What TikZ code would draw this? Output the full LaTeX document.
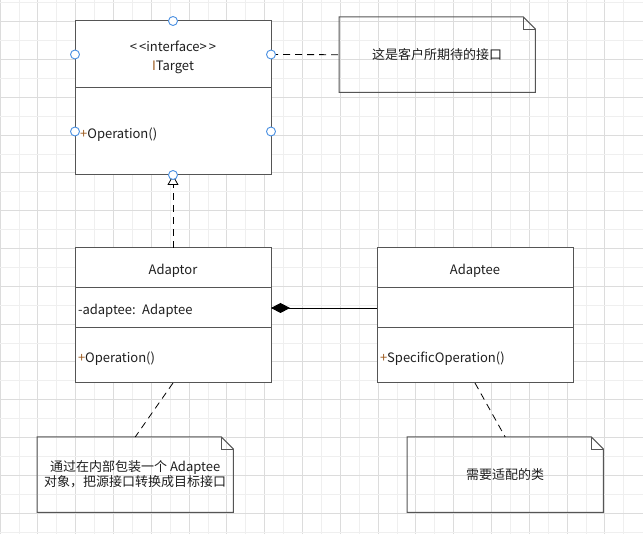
\documentclass[tikz,border=0pt]{standalone}
\usepackage{fontspec}
\setmainfont{Noto Sans CJK SC}
\usetikzlibrary{arrows.meta}
\usetikzlibrary{positioning}
\definecolor{gridmajor}{HTML}{DCDCDC}
\definecolor{gridminor}{HTML}{EFEFEF}
\definecolor{boxline}{HTML}{555555}
\definecolor{portblue}{HTML}{4A90E2}
\definecolor{plusbrown}{HTML}{9C5A1E}
\newcommand{\pl}{\textcolor{plusbrown}{+}}
\tikzset{
    classpart/.style={draw=boxline, line width=1pt, fill=white, rectangle, minimum width=196pt,
        text width=190pt, inner sep=0pt, outer sep=0pt, font=\fontsize{13}{19}\selectfont,
        execute at begin node={\rule{0pt}{16pt}}},
    notebox/.style={minimum width=196pt, minimum height=75pt, anchor=north west, align=center,
        inner sep=0pt, font=\fontsize{13}{15}\selectfont},
    port/.style={circle, draw=portblue, fill=white, line width=0.9pt, minimum size=9pt, inner sep=0pt},
    dashline/.style={dash pattern=on 7pt off 5pt, line width=0.8pt},
}

\begin{document}
\begin{tikzpicture}[x=1pt, y=-1pt, text=black!88]
    \useasboundingbox[fill=white] (0,0) rectangle (643,534);
    \foreach \i in {0,...,16} {
        \draw[gridminor, line width=0.8pt] (18.9+\i*37.8,0) -- (18.9+\i*37.8,534);
        \draw[gridmajor, line width=0.8pt] (\i*37.8,0) -- (\i*37.8,534);
    }
    \foreach \i in {0,...,14} {
        \draw[gridminor, line width=0.8pt] (0,2.8+\i*37.8) -- (643,2.8+\i*37.8);
        \draw[gridmajor, line width=0.8pt] (0,21.7+\i*37.8) -- (643,21.7+\i*37.8);
    }

    \node[classpart, minimum height=67pt, align=center, anchor=north west] (itarget-name) at (75,21)
        {{<}\,{<}interface{>}\,{>}\\\textcolor{plusbrown}{I}Target};
    \node[classpart, minimum height=87pt, align=left, below=0pt of itarget-name] (itarget-ops) {\,\pl Operation()};

    \node[classpart, minimum height=40pt, align=center, anchor=north west] (adaptor-name) at (75,248) {Adaptor};
    \node[classpart, minimum height=40pt, align=left, below=0pt of adaptor-name] (adaptor-attr) {-adaptee: Adaptee};
    \node[classpart, minimum height=55pt, align=left, below=0pt of adaptor-attr] (adaptor-ops) {\pl Operation()};

    \node[classpart, minimum height=40pt, align=center, anchor=north west] (adaptee-name) at (377,248) {Adaptee};
    \node[classpart, minimum height=40pt, align=left, below=0pt of adaptee-name] (adaptee-attr) {};
    \node[classpart, minimum height=55pt, align=left, below=0pt of adaptee-attr] (adaptee-ops) {\pl SpecificOperation()};

    \node[notebox] (note0) at (339,17) {这是客户所期待的接口};
    \node[notebox] (note1) at (37,437) {通过在内部包装一个 Adaptee\\对象，把源接口转换成目标接口};
    \node[notebox] (note2) at (407,437) {需要适配的类};
    \foreach \n in {note0,note1,note2} {
        \draw[boxline, line width=1pt] (\n.north west) -- ([xshift=-12pt]\n.north east)
            -- ([yshift=-12pt]\n.north east) -- (\n.south east) -- (\n.south west) -- cycle;
        \draw[boxline, line width=0.8pt] ([xshift=-12pt]\n.north east) |- ([yshift=-12pt]\n.north east);
    }

    \draw[dashline, -{Triangle[open, length=10pt, width=11pt, fill=white]}] (adaptor-name.north) -- (itarget-ops.south);
    \draw[line width=0.9pt, -{Diamond[length=19pt, width=10pt]}] (adaptee-attr.west) -- (adaptor-attr.east);
    \draw[dashline] (itarget-name.east) -- (note0.west);
    \draw[dashline] (adaptor-ops.south) -- (note1.north);
    \draw[dashline] (adaptee-ops.south) -- (note2.north);

    \foreach \a/\n in {name.north/1, name.west/2, name.east/3, ops.west/4, ops.east/5, ops.south/6}
        \node[port] (port\n) at (itarget-\a) {};
\end{tikzpicture}
\end{document}
